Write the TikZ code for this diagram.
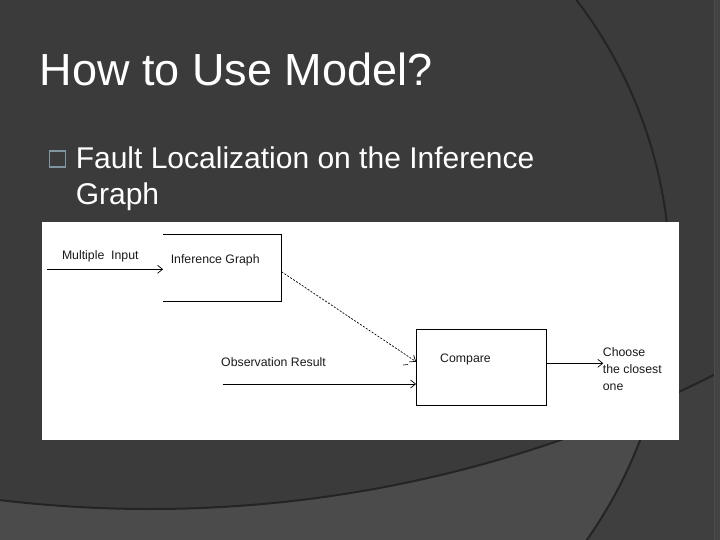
\documentclass[tikz,border=0pt]{standalone}
\usepackage{fontspec}
\setmainfont{Liberation Sans}
\usetikzlibrary{arrows.meta}
\definecolor{bgdark}{HTML}{3B3B3B}
\definecolor{bgmid}{HTML}{3F3F3F}
\definecolor{bglight}{HTML}{4B4B4B}
\definecolor{arcc}{HTML}{242424}
\definecolor{stripc}{HTML}{434343}
\definecolor{bulletc}{HTML}{7F95A0}
\definecolor{txt}{HTML}{1A1A1A}
\tikzset{
  arcline/.style={draw=arcc, line width=2pt},
  lbl/.style={anchor=base west, inner sep=0pt, text=txt, font=\fontsize{12.3}{17}\selectfont},
  boxline/.style={draw=black, line width=1.2pt},
  conn/.style={draw=black, line width=0.9pt, -{Straight Barb[length=5pt,width=8pt,line width=0.7pt]}},
  dconn/.style={draw=black, line width=0.7pt, dash pattern=on 2pt off 1.5pt, -{Straight Barb[length=5pt,width=8pt,line width=0.7pt]}},
  slidetext/.style={anchor=base west, inner sep=0pt, text=white}
}
\begin{document}
\begin{tikzpicture}[x=1pt,y=-1pt]
\useasboundingbox (0,0) rectangle (720,540);
% background
\begin{scope}
  \clip (0,0) rectangle (720,540);
  \fill[bgdark] (0,0) rectangle (720,540);
  \fill[bgmid, even odd rule] (-10,-10) rectangle (730,550) (150,-741) circle[radius=1250pt];
  \begin{scope}
    \clip (213,277) circle[radius=457pt];
    \fill[bglight, even odd rule] (-10,-10) rectangle (730,550) (150,-741) circle[radius=1250pt];
  \end{scope}
  \draw[arcline] (213,277) circle[radius=457pt];
  \draw[arcline] (150,-741) circle[radius=1250pt];
  \fill[stripc] (714,0) rectangle (720,540);
  \draw[draw=bglight, line width=0.8pt] (714.5,0) -- (714.5,540);
\end{scope}
% title and bullet
\node[slidetext, font=\fontsize{45}{54}\selectfont] (title) at (39.5,86) {How to Use Model?};
\node[draw=bulletc, line width=1.3pt, minimum width=16pt, minimum height=16pt, inner sep=0pt] (bul) at (57.5,159) {};
\node[slidetext, font=\fontsize{30}{36}\selectfont, align=left] (btext) at (75.6,204.6) {Fault Localization on the Inference\\Graph};
% panel
\fill[white] (42,222) rectangle (679,440);
% boxes
\node[minimum width=118pt, minimum height=66pt, inner sep=0pt] (ig) at (222.3,268) {};
\draw[boxline] (ig.north west) -- (ig.north east) -- (ig.south east) -- (ig.south west);
\node[boxline, minimum width=130pt, minimum height=76pt, inner sep=0pt] (cmp) at (481.7,367.3) {};
% labels
\node[lbl] (multi) at (61.8,259.3) {Multiple\ \ Input};
\node[lbl] (igl) at (170.6,263) {Inference Graph};
\node[lbl] (cmpl) at (440,362.7) {Compare};
\node[lbl] (obs) at (221,366.7) {Observation Result};
\node[lbl, align=left] (choose) at (602.7,390.7) {Choose\\the closest\\one};
% connectors
\coordinate (in1) at (46.7,269.3);
\coordinate (in2) at (222.7,384);
\coordinate (out) at (603.3,363.3);
\draw[conn] (in1) -- (in1 -| ig.west);
\draw[dconn] ([yshift=-3.7pt]ig.east) -- ([yshift=5.6pt]cmp.west);
\draw[conn] (in2) -- (in2 -| cmp.west);
\draw[conn] (cmp.east |- out) -- (out);
\draw[black, line width=0.6pt] (403,365) -- (408,364.5);
\end{tikzpicture}
\end{document}
